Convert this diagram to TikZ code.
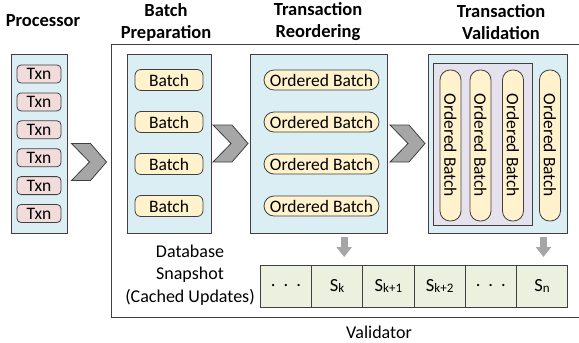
\documentclass[tikz,border=0pt]{standalone}
\usepackage{fontspec}
\setmainfont{Carlito}
\usetikzlibrary{positioning,calc,arrows.meta}
\definecolor{mybluei}{RGB}{218,238,243}
\definecolor{mypink}{RGB}{242,220,219}
\definecolor{myyellow}{RGB}{255,242,204}
\definecolor{mylilac}{RGB}{229,226,238}
\definecolor{mygreen}{RGB}{235,241,222}
\definecolor{myedge}{RGB}{64,64,64}
\definecolor{mygray}{RGB}{166,166,166}
\newcommand\subk[1]{\raisebox{-1pt}{\fontsize{13}{13}\selectfont #1}}
\newcommand\celldots{.\hspace{8pt}.\hspace{8pt}.}

\begin{document}
\begin{tikzpicture}[x=1pt,y=-1pt,outer sep=0pt,
		stageb/.style={
		  draw=myedge,
		  fill=mybluei,
		  line width=0.9pt,
		  minimum height=179pt},
		txnb/.style={
		  draw=myedge,
		  fill=mypink,
		  rounded corners=4pt,
		  line width=0.8pt,
		  minimum width=44pt,
		  minimum height=18pt,
		  inner sep=0pt,
		  font=\fontsize{17.5}{17.5}\selectfont},
		batchb/.style={txnb,fill=myyellow,rounded corners=6pt,
		  minimum width=68pt,minimum height=21pt},
		obatchb/.style={txnb,fill=myyellow,rounded corners=10pt,
		  minimum width=115pt,minimum height=20pt},
		pillb/.style={obatchb,rotate=-90,minimum width=151pt,
		  minimum height=21pt},
		cellb/.style={
		  draw=myedge,
		  fill=mygreen,
		  line width=0.9pt,
		  minimum width=51.2pt,
		  minimum height=42pt,
		  inner sep=0pt,
		  font=\fontsize{18.5}{18.5}\selectfont},
		titleb/.style={align=center,font=\fontsize{18.5}{22}\selectfont\bfseries},
		chevb/.style={draw=myedge,fill=mygray,line width=0.8pt},
		downarr/.style={draw=mygray,line width=7pt,
		  -{Triangle[width=15pt,length=10pt]}},
		chev/.pic={
		  \path[chevb] (-17.5,-18.5) -- (1.5,-18.5) -- (17.5,0) -- (1.5,18.5)
		    -- (-17.5,18.5) -- (0.5,0) -- cycle;},
		]
		\useasboundingbox (0,0) rectangle (579,343);
		% validator frame (right edge runs off the page)
		\node[draw=myedge,line width=0.9pt,minimum width=470pt,minimum height=273pt]
		  (vali) at (346,180.5) {};
		\node[font=\fontsize{18}{18}\selectfont] (valt) at (379,332) {Validator};
		% stages
		\node[stageb,minimum width=56pt] (proc) at (39,143.5) {};
		\node[stageb,minimum width=84pt] (bprep) at (169,143.5) {};
		\node[stageb,minimum width=137pt] (reord) at (318.5,143.5) {};
		\node[stageb,minimum width=139pt] (valid) at (497.5,143.5) {};
		\node[draw=myedge,fill=mylilac,line width=0.9pt,minimum width=99pt,
		  minimum height=162pt] (inner) at (482.5,144) {};
		% titles
		\node[titleb] (proct) at (43,21) {Processor};
		\node[titleb] (bprept) at (166,22) {Batch\\Preparation};
		\node[titleb] (reordt) at (318,22) {Transaction\\Reordering};
		\node[titleb] (validt) at (501,22) {Transaction\\Validation};
		% contents
		\foreach \i in {0,...,5}
		  \node[txnb] (txn\i) at (39,74+27.9*\i) {Txn};
		\foreach \i in {0,...,3}{
		  \node[batchb] (bat\i) at (169,80+42*\i) {Batch};
		  \node[obatchb] (ob\i) at (321.5,80+42*\i) {Ordered Batch};
		}
		\foreach \x [count=\i] in {450.5,480.5,513,550}
		  \node[pillb] (pill\i) at (\x,145.5) {Ordered Batch};
		% chevrons between stages
		\pic at ($(proc.east)!0.5!(vali.west)$) {chev};
		\pic at ($(bprep.east)!0.5!(reord.west)$) {chev};
		\pic at ($(reord.east)!0.5!(valid.west)$) {chev};
		% snapshot
		\node[align=center,font=\fontsize{18}{22.5}\selectfont] (snapt) at (190,275)
		  {Database\\Snapshot\\(Cached Updates)};
		\node[cellb] (c0) at (286,286) {\celldots};
		\node[cellb,right=0pt of c0] (c1) {S\subk{k}};
		\node[cellb,right=0pt of c1] (c2) {S\subk{k+1}};
		\node[cellb,right=0pt of c2] (c3) {S\subk{k+2}};
		\node[cellb,right=0pt of c3] (c4) {\celldots};
		\node[cellb,right=0pt of c4] (c5) {S\subk{n}};
		\draw[downarr,shorten <=4pt,shorten >=8pt]
		  ([xshift=7pt]c1.north |- reord.south) -- ([xshift=7pt]c1.north);
		\draw[downarr,shorten <=4pt,shorten >=8pt]
		  ([xshift=1.5pt]c5.north |- valid.south) -- ([xshift=1.5pt]c5.north);
		\end{tikzpicture}
\end{document}
